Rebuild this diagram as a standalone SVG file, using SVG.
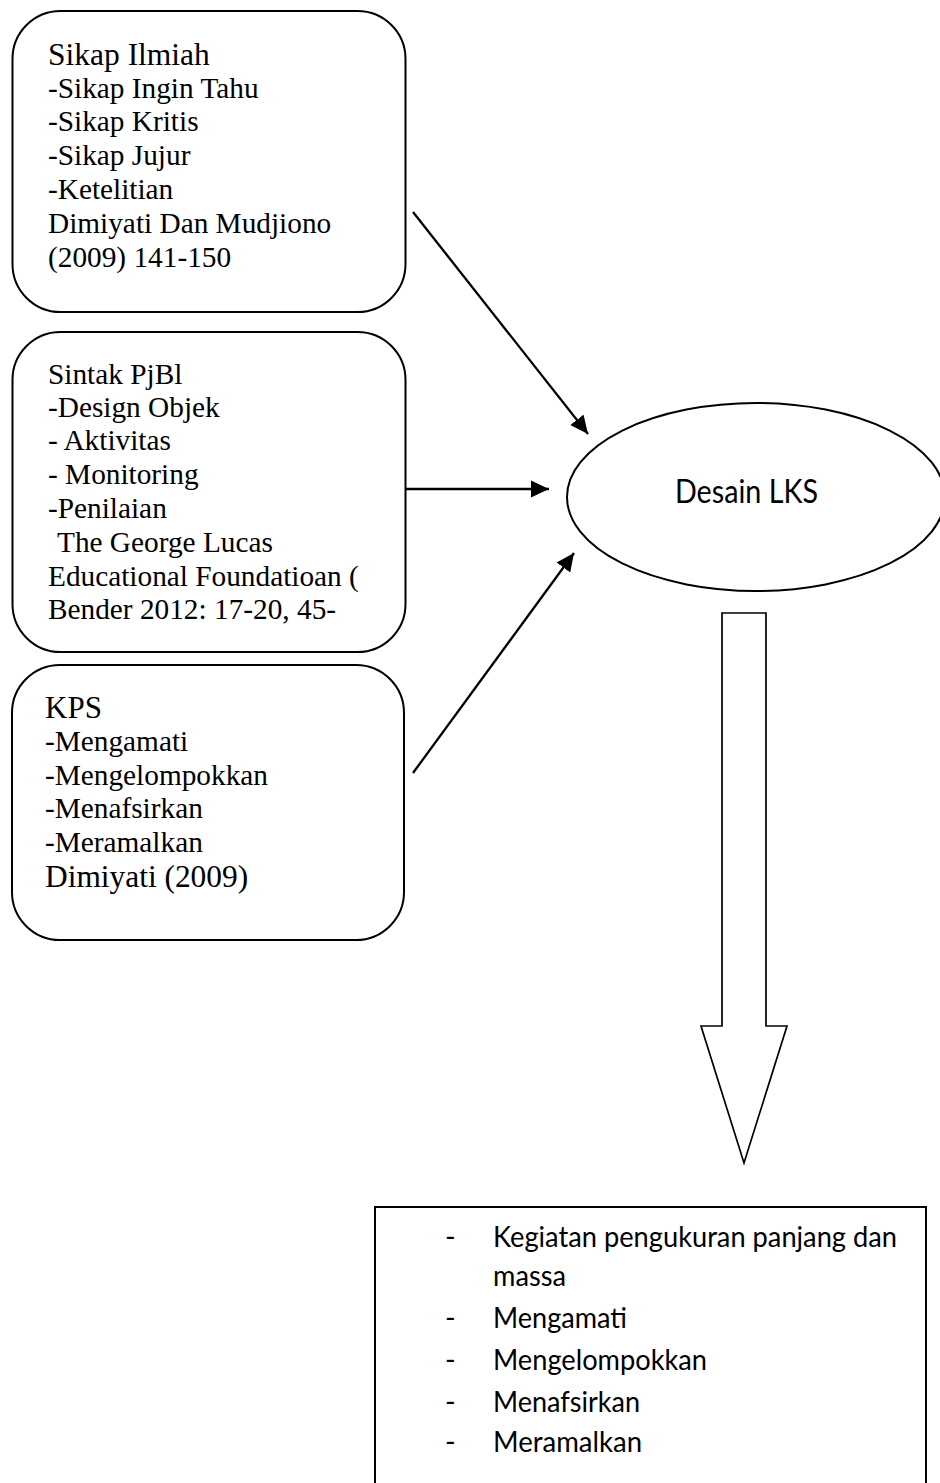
<svg xmlns="http://www.w3.org/2000/svg" width="940" height="1483" viewBox="0 0 940 1483">
<style>
.box{fill:#fff;stroke:#000;stroke-width:2}
.serif{font-family:"Liberation Serif","Times New Roman",serif;fill:#000}
.sans{font-family:Lato,"Open Sans",sans-serif;fill:#000}
.conn{stroke:#000;stroke-width:2.3;fill:none}
</style>
<defs>
<marker id="ah" markerUnits="userSpaceOnUse" markerWidth="18" markerHeight="18" viewBox="0 0 17 16" refX="17" refY="8" orient="auto">
<path d="M0,0 L17,8 L0,16 Z" fill="#000"/>
</marker>
</defs>
<rect width="940" height="1483" fill="#fff"/>
<g id="connectors">
<line class="conn" x1="413" y1="212" x2="588" y2="434" marker-end="url(#ah)"/>
<line class="conn" x1="406" y1="489" x2="549" y2="489" marker-end="url(#ah)"/>
<line class="conn" x1="413" y1="773" x2="574" y2="553" marker-end="url(#ah)"/>
<polygon id="block-arrow" points="722,613 766,613 766,1026 787,1026 744,1163 701,1026 722,1026" fill="#fff" stroke="#000" stroke-width="1.7"/>
</g>
<g id="sikap-ilmiah">
<rect class="box" x="12.5" y="11" width="393" height="301" rx="48" ry="48"/>
<text class="serif" x="48" y="65" font-size="31.5">Sikap Ilmiah</text>
<text class="serif" font-size="29.3">
<tspan x="48" y="98">-Sikap Ingin Tahu</tspan>
<tspan x="48" y="131">-Sikap Kritis</tspan>
<tspan x="48" y="165">-Sikap Jujur</tspan>
<tspan x="48" y="199">-Ketelitian</tspan>
<tspan x="48" y="233">Dimiyati Dan Mudjiono</tspan>
<tspan x="48" y="267">(2009) 141-150</tspan>
</text>
</g>
<g id="sintak-pjbl">
<rect class="box" x="12.5" y="332" width="393" height="320" rx="48" ry="48"/>
<text class="serif" font-size="29.3">
<tspan x="48" y="384">Sintak PjBl</tspan>
<tspan x="48" y="417">-Design Objek</tspan>
<tspan x="48" y="450">- Aktivitas</tspan>
<tspan x="48" y="484">- Monitoring</tspan>
<tspan x="48" y="518">-Penilaian</tspan>
<tspan x="57" y="552">The George Lucas</tspan>
<tspan x="48" y="586">Educational Foundatioan (</tspan>
<tspan x="48" y="619">Bender 2012: 17-20, 45-</tspan>
</text>
</g>
<g id="kps">
<rect class="box" x="12" y="665" width="392" height="275" rx="48" ry="48"/>
<text class="serif" x="45" y="718" font-size="31">KPS</text>
<text class="serif" font-size="29.3">
<tspan x="45" y="751">-Mengamati</tspan>
<tspan x="45" y="785">-Mengelompokkan</tspan>
<tspan x="45" y="818">-Menafsirkan</tspan>
<tspan x="45" y="852">-Meramalkan</tspan>
</text>
<text class="serif" x="45" y="887" font-size="31.4">Dimiyati (2009)</text>
</g>
<g id="desain-lks">
<ellipse cx="756" cy="497" rx="189" ry="94" fill="#fff" stroke="#000" stroke-width="2"/>
<text class="sans" x="675" y="503" font-size="32" textLength="143" lengthAdjust="spacingAndGlyphs">Desain LKS</text>
</g>
<g id="hasil">
<rect class="box" x="375" y="1207" width="551" height="300"/>
<g class="sans" font-size="28.7">
<text x="445" y="1247">-</text>
<text x="493" y="1247" textLength="404" lengthAdjust="spacingAndGlyphs">Kegiatan pengukuran panjang dan</text>
<text x="493" y="1286" textLength="73" lengthAdjust="spacingAndGlyphs">massa</text>
<text x="445" y="1328">-</text>
<text x="493" y="1328" textLength="134" lengthAdjust="spacingAndGlyphs">Mengamati</text>
<text x="445" y="1370">-</text>
<text x="493" y="1370" textLength="214" lengthAdjust="spacingAndGlyphs">Mengelompokkan</text>
<text x="445" y="1412">-</text>
<text x="493" y="1412" textLength="147" lengthAdjust="spacingAndGlyphs">Menafsirkan</text>
<text x="445" y="1452">-</text>
<text x="493" y="1452" textLength="149" lengthAdjust="spacingAndGlyphs">Meramalkan</text>
</g>
</g>
</svg>
